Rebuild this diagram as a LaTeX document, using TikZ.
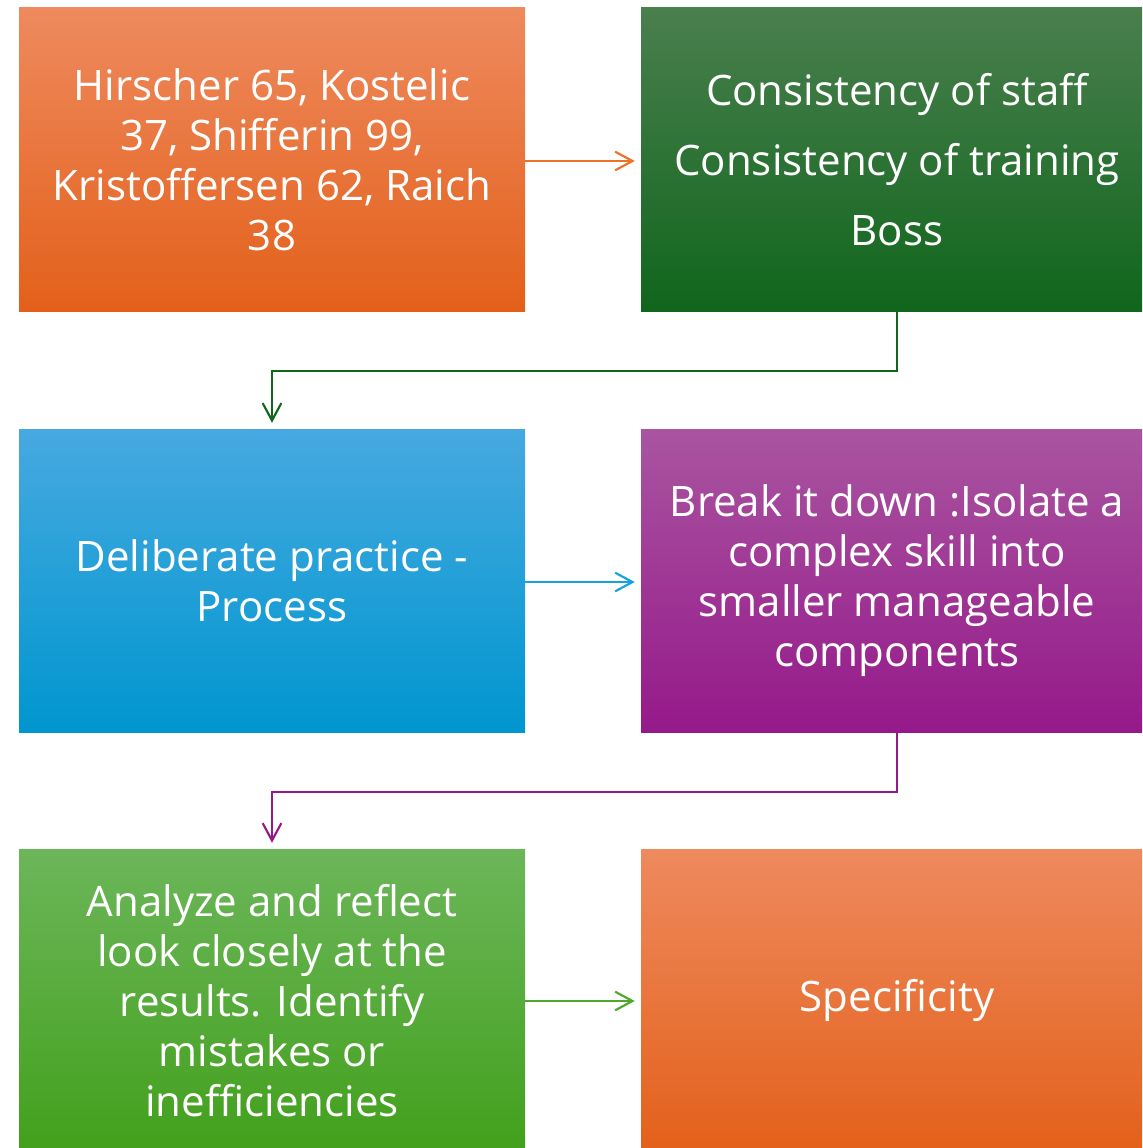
\documentclass[tikz,border=0pt]{standalone}
\usepackage{fontspec}
\setmainfont{Open Sans}
\usetikzlibrary{arrows.meta}
\definecolor{orT}{HTML}{EE8A5E}\definecolor{orM}{HTML}{F07028}\definecolor{orB}{HTML}{E3601A}
\definecolor{dgT}{HTML}{4A7F4E}\definecolor{dgM}{HTML}{1E7028}\definecolor{dgB}{HTML}{10661C}
\definecolor{blT}{HTML}{47A9E0}\definecolor{blM}{HTML}{12A3E0}\definecolor{blB}{HTML}{0096CF}
\definecolor{puT}{HTML}{A955A0}\definecolor{puM}{HTML}{A0258F}\definecolor{puB}{HTML}{95198A}
\definecolor{lgT}{HTML}{6CB65A}\definecolor{lgM}{HTML}{4EA82A}\definecolor{lgB}{HTML}{42A01C}
\tikzset{
  box/.style={rectangle, inner sep=0pt, minimum width=379.5pt, minimum height=227.25pt,
    text=white, align=center, font=\fontsize{31.5pt}{37.5pt}\selectfont},
  rbox/.style={box, minimum width=384pt},
  orangebox/.style={top color=orT, middle color=orM, bottom color=orB},
  dgreenbox/.style={top color=dgT, middle color=dgM, bottom color=dgB},
  bluebox/.style={top color=blT, middle color=blM, bottom color=blB},
  purplebox/.style={top color=puT, middle color=puM, bottom color=puB},
  lgreenbox/.style={top color=lgT, middle color=lgM, bottom color=lgB},
  conn/.style={line width=1.6pt, -{Straight Barb[length=13pt,width=14pt,line width=1.6pt]}, shorten >=4.5pt}
}
\begin{document}
\begin{tikzpicture}[x=0.75pt,y=-0.75pt]
\useasboundingbox (0,0) rectangle (1142,1148);
\begin{scope}
\clip (0,0) rectangle (1142,1148);
\node[box, orangebox] (tl) at (272,159.5) {Hirscher 65, Kostelic\\37, Shifferin 99,\\Kristoffersen 62, Raich\\38};
\node[rbox, dgreenbox] (tr) at (897,159.5) {Consistency of staff\\[15pt]Consistency of training\\[15pt]Boss};
\node[box, bluebox] (ml) at (272,580.5) {Deliberate practice -\\Process};
\node[rbox, purplebox] (mr) at (897,580.5) {Break it down :Isolate a\\complex skill into\\smaller manageable\\components};
\node[box, lgreenbox] (bl) at (272,1000.5) {Analyze and reflect\\look closely at the\\results. Identify\\mistakes or\\inefficiencies};
\node[rbox, orangebox] (br) at (897,1000.5) {Specificity};
\end{scope}
\draw[conn, orM] (tl.east |- 0,161) -- (tr.west |- 0,161);
\draw[conn, dgB] (tr.south) -- ++(0,60) -| (ml.north);
\draw[conn, blM] (ml.east |- 0,582) -- (mr.west |- 0,582);
\draw[conn, puB] (mr.south) -- ++(0,60) -| (bl.north);
\draw[conn, lgM] (bl.east |- 0,1001) -- (br.west |- 0,1001);
\end{tikzpicture}
\end{document}
